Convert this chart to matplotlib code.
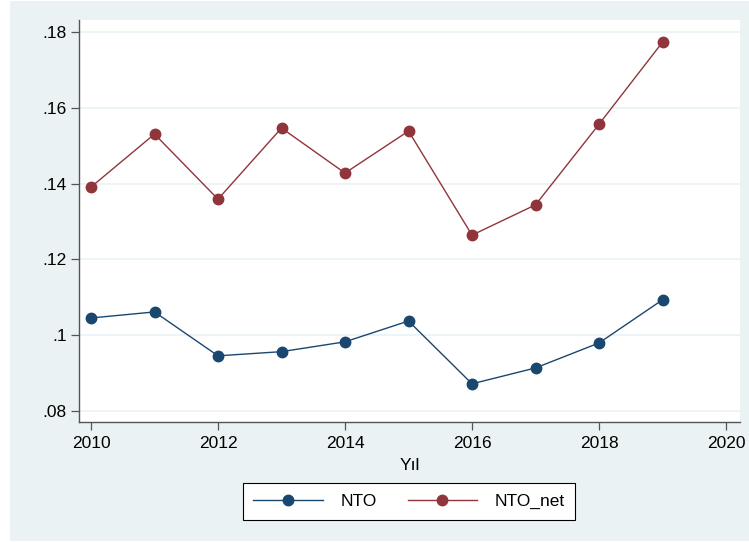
import matplotlib.pyplot as plt
from matplotlib.patches import Rectangle

years = [2010, 2011, 2012, 2013, 2014, 2015, 2016, 2017, 2018, 2019]
nto = [0.1045, 0.1061, 0.0945, 0.0956, 0.0982, 0.1037, 0.0871, 0.0913, 0.0979, 0.1093]
nto_net = [0.1391, 0.1531, 0.1359, 0.1547, 0.1428, 0.1539, 0.1264, 0.1344, 0.1557, 0.1774]
xticks = [2010, 2012, 2014, 2016, 2018, 2020]
yticks = [0.08, 0.10, 0.12, 0.14, 0.16, 0.18]
ylabels = ['.08', '.1', '.12', '.14', '.16', '.18']

plt.rcParams['font.family'] = ['Liberation Sans', 'DejaVu Sans']

bg = '#EAF2F3'
navy = '#1A476F'
maroon = '#90353B'

fig = plt.figure(figsize=(7.49, 5.42), dpi=100)
fig.patch.set_facecolor('white')
fig.patches.append(Rectangle((10 / 749, 1 / 542), 739 / 749, 540 / 542,
                             transform=fig.transFigure, facecolor=bg,
                             edgecolor='none', zorder=-10))

ax = fig.add_axes([79 / 749, 120 / 542, 661 / 749, 402 / 542])
ax.set_facecolor('white')

ax.plot(years, nto, color=navy, lw=1.0, marker='o', ms=7.5, label='NTO', zorder=3)
ax.plot(years, nto_net, color=maroon, lw=1.0, marker='o', ms=7.5, label='NTO_net', zorder=3)

ax.set_xlim(2009.811, 2020.22)
ax.set_ylim(0.07701, 0.18325)
ax.set_xticks(xticks)
ax.set_xticklabels([str(t) for t in xticks])
ax.set_yticks(yticks)
ax.set_yticklabels(ylabels)
ax.grid(axis='y', color=bg, lw=1.2, zorder=0)
ax.set_axisbelow(True)

for s in ['top', 'right']:
    ax.spines[s].set_visible(False)
for s in ['left', 'bottom']:
    ax.spines[s].set_color('#555555')
    ax.spines[s].set_linewidth(1.0)
ax.tick_params(axis='both', length=6, width=0.9, color='#555555', labelsize=12.5, pad=4)
ax.tick_params(axis='y', pad=3)

ax.set_xlabel('Yıl', fontsize=12.5, labelpad=5)

fig.legend(loc='center', bbox_to_anchor=(409 / 749, 1 - 501.5 / 542), ncol=2,
           fontsize=12.5, frameon=True, fancybox=False, edgecolor='black',
           framealpha=1, handlelength=4, columnspacing=1.8, handletextpad=1.0,
           borderpad=0.6).get_frame().set_linewidth(0.8)

fig.savefig('out.png', dpi=100, facecolor=fig.get_facecolor())
